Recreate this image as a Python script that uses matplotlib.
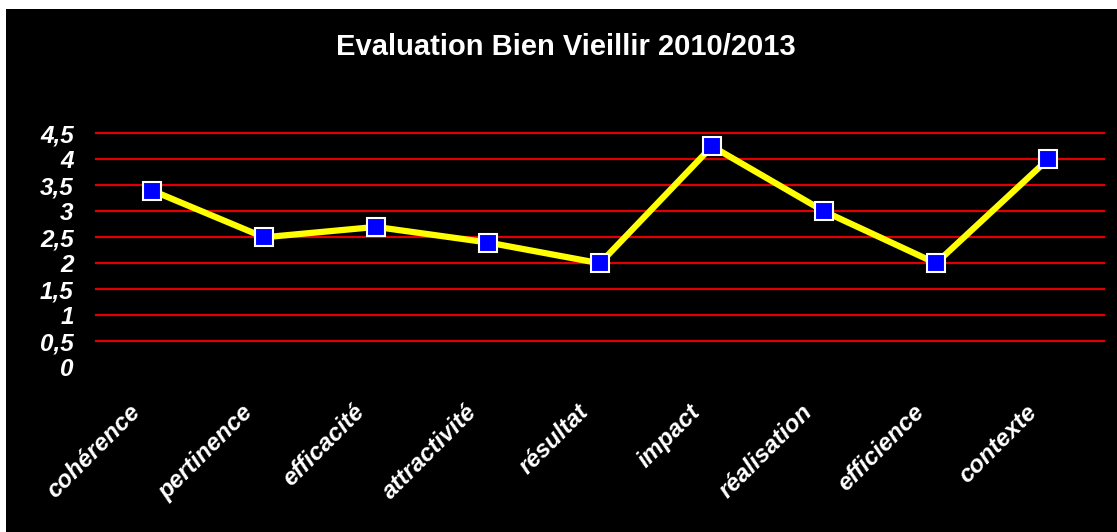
import matplotlib
matplotlib.use("Agg")
import matplotlib.pyplot as plt
from matplotlib.patches import Rectangle
from matplotlib.transforms import ScaledTranslation

categories = ["cohérence", "pertinence", "efficacité", "attractivité", "résultat",
              "impact", "réalisation", "efficience", "contexte"]
values = [3.4, 2.5, 2.7, 2.4, 2.0, 4.25, 3.0, 2.0, 4.0]
yticks = [0, 0.5, 1, 1.5, 2, 2.5, 3, 3.5, 4, 4.5]
ytick_labels = ["0", "0,5", "1", "1,5", "2", "2,5", "3", "3,5", "4", "4,5"]
title = "Evaluation Bien Vieillir 2010/2013"

W, H = 1117, 532
fig = plt.figure(figsize=(W / 100, H / 100), dpi=100, facecolor="white")
fig.patches.append(Rectangle((6 / W, 0), 1 - 6 / W, 1 - 9 / H, transform=fig.transFigure,
                             facecolor="black", edgecolor="none", zorder=-5))

ax = fig.add_axes([96 / W, (H - 367.3) / H, 1008 / W, 234 / H])
ax.set_zorder(2)
ax.set_facecolor("black")
ax.patch.set_alpha(0)
for s in ax.spines.values():
    s.set_visible(False)

x = list(range(len(categories)))
ax.set_xlim(-0.5, len(categories) - 0.5)
ax.set_ylim(0, 4.5)

for yv in yticks[1:]:
    ax.axhline(yv, color="#E00000", lw=1.6, zorder=1, clip_on=False)

ax.plot(x, values, color="#FFFF00", lw=4.5, zorder=2, solid_joinstyle="round", clip_on=False)
ax.plot(x, values, linestyle="none", marker="s", markersize=13, markerfacecolor="#0000FF",
        markeredgecolor="white", markeredgewidth=1.5, zorder=3, clip_on=False)

font = "Liberation Sans"
ax.set_yticks(yticks)
ax.set_yticklabels(ytick_labels, fontsize=17.5, fontweight="bold", fontstyle="italic",
                   color="white", family=font)
ax.tick_params(axis="y", length=0, pad=16)

ax.set_xticks(x)
ax.set_xticklabels(categories, fontsize=17.5, fontweight="bold", fontstyle="italic",
                   color="white", family=font, rotation=45, ha="right", va="top",
                   rotation_mode="anchor")
ax.tick_params(axis="x", length=0, pad=0)
off = ScaledTranslation(-23 / 100, -33 / 100, fig.dpi_scale_trans)
for lab in ax.get_xticklabels():
    lab.set_transform(lab.get_transform() + off)

t = fig.text(566 / W, 1 - 47 / H, title, ha="center", va="center", color="white",
             fontsize=21, fontweight="bold", family=font)
t.set_zorder(3)

fig.savefig("out.png", dpi=100, facecolor=fig.get_facecolor())
